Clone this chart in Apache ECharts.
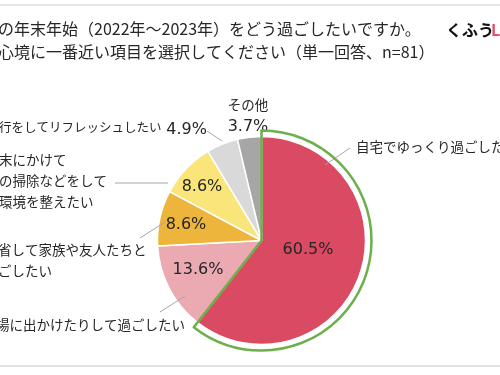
<!DOCTYPE html>
<html><head><meta charset="utf-8">
<script src="https://cdn.jsdelivr.net/npm/echarts@6/dist/echarts.min.js"></script>
<style>html,body{margin:0;padding:0;background:#fff}#c{width:500px;height:375px}</style>
</head><body><div id="c"></div>
<script>
// ---- data ----
const categories = ['自宅でゆっくり過ごしたい', '場に出かけたりして過ごしたい', '省して家族や友人たちと\nごしたい', '末にかけて\nの掃除などをして\n環境を整えたい', '行をしてリフレッシュしたい', 'その他'];
const values = [60.5, 13.6, 8.6, 8.6, 4.9, 3.7];
const titleLines = ['の年末年始（2022年～2023年）をどう過ごしたいですか。', '心境に一番近い項目を選択してください（単一回答、n=81）'];
const highlighted = 0;

// ---- styles / layout (label placement only) ----
const colors = ['#DA4A62', '#EBAAB2', '#EDB53B', '#F9E57A', '#D9D9D9', '#A6A6A6'];
const center = [261.5, 240.5];
const R = 104;
const pctPos = [[308, 250, 'center'], [198, 270, 'center'], [186, 225, 'center'], [202, 187, 'center'], [207, 130, 'right'], [248, 127, 'center']];
const catPos = [[356, 147, 'left'], [-4, 325, 'left'], [-2, 260, 'left'], [-1, 181, 'left'], [-1, 127, 'left'], [248, 105, 'center']];
const catFont = [13.5, 13.5, 13.5, 13.5, 12.5, 13.5];
const catLeader = [[[350, 148], [325, 165]], [[160, 312], [185, 296]], [[140, 238], [165, 222]], [[115, 183], [168, 183]], null, null];
const pctLeader = [null, null, null, null, [[207, 131], [222, 141]], null];
const jp = 'Noto Sans CJK JP';
const txt = '#262626';

function layoutFn(pos, leaders) {
  return p => {
    const q = pos[p.dataIndex];
    const o = {x: q[0], y: q[1], align: q[2], verticalAlign: 'middle'};
    if (leaders[p.dataIndex]) o.labelLinePoints = leaders[p.dataIndex];
    return o;
  };
}

const chart = echarts.init(document.getElementById('c'), null, {renderer: 'canvas'});
chart.setOption({
  animation: false,
  backgroundColor: '#fff',
  title: {
    text: titleLines.join('\n'), left: -7, top: 12,
    textStyle: {fontFamily: jp, fontSize: 16, fontWeight: 'normal', color: txt, lineHeight: 23}
  },
  graphic: [
    {type: 'line', shape: {x1: 0, y1: 5, x2: 500, y2: 5}, style: {stroke: '#e6e6e6', lineWidth: 2}},
    {type: 'line', shape: {x1: 0, y1: 366, x2: 500, y2: 366}, style: {stroke: '#e3e3e3', lineWidth: 2}},
    {type: 'text', left: 446, top: 22, style: {text: 'くふう', font: 'bold 16px "Noto Sans CJK JP"', fill: '#111'}},
    {type: 'text', left: 491, top: 22, style: {text: 'L', font: 'bold 16px "Noto Sans CJK JP"', fill: '#E0506A'}}
  ],
  series: [
    {
      type: 'pie', center: center, radius: [0, R], startAngle: 90, clockwise: true,
      avoidLabelOverlap: false, silent: true,
      itemStyle: {borderColor: '#fff', borderWidth: 1.5},
      label: {
        show: true, position: 'outside', width: 400, overflow: 'none',
        fontFamily: 'DejaVu Sans', fontSize: 16, color: '#262626',
        formatter: p => values[p.dataIndex].toFixed(1) + '%'
      },
      labelLine: {show: false, length2: 0, lineStyle: {color: '#A6A6A6', width: 1}},
      labelLayout: layoutFn(pctPos, pctLeader),
      data: values.map((v, i) => ({value: v, name: categories[i], itemStyle: {color: colors[i]}, labelLine: {show: !!pctLeader[i]}})),
      z: 2
    },
    {
      type: 'pie', center: center, radius: [0, R], startAngle: 90, clockwise: true,
      avoidLabelOverlap: false, silent: true,
      itemStyle: {color: 'rgba(0,0,0,0)', borderWidth: 0},
      label: {
        show: true, position: 'outside', width: 400, overflow: 'none',
        fontFamily: jp, fontSize: 13.5, lineHeight: 21, color: txt,
        formatter: p => categories[p.dataIndex]
      },
      labelLine: {show: false, length2: 0, lineStyle: {color: '#A6A6A6', width: 1}},
      labelLayout: layoutFn(catPos, catLeader),
      data: values.map((v, i) => ({value: v, name: categories[i], label: {fontSize: catFont[i]}, labelLine: {show: !!catLeader[i]}})),
      z: 3
    },
    {
      type: 'pie', center: center, radius: [0, R + 6], startAngle: 90, clockwise: true,
      silent: true, label: {show: false}, labelLine: {show: false},
      data: values.map((v, i) => ({
        value: v, name: categories[i],
        itemStyle: i === highlighted
          ? {color: 'rgba(0,0,0,0)', borderColor: '#6DAF4B', borderWidth: 2.5}
          : {color: 'rgba(0,0,0,0)', borderWidth: 0}
      })),
      z: 4
    }
  ]
});
</script></body></html>
